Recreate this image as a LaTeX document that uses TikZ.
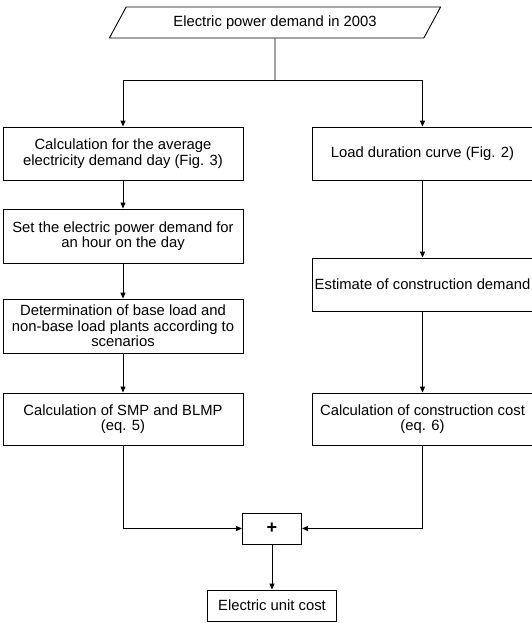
\documentclass[tikz,border=0pt]{standalone}
\usepackage{fontspec}
\setmainfont{Liberation Sans}
\usepackage{tikz}
\usetikzlibrary{shapes.geometric,arrows.meta}

\begin{document}
\begin{tikzpicture}[x=1pt, y=-1pt, line width=0.9pt,
  font=\fontsize{14.8}{15.5}\selectfont,
  box/.style={draw, align=center, inner sep=2pt, minimum height=53pt},
  lbox/.style={box, minimum width=240pt},
  rbox/.style={box, minimum width=221pt},
  arr/.style={-{Triangle[length=6pt,width=5pt]}}]
\useasboundingbox (0,0) rectangle (532,623);
\clip (0,0) rectangle (532,623);
\node[draw, trapezium, trapezium left angle=60, trapezium right angle=120, trapezium stretches=true,
  minimum width=332pt, minimum height=31pt] (demand) at (275,22.5) {Electric power demand in 2003};
\node[lbox] (avg) at (123,153.5) {Calculation for the average\\electricity demand day (Fig. 3)};
\node[lbox, minimum height=54pt] (hour) at (123,236) {Set the electric power demand for\\an hour on the day};
\node[lbox, minimum height=54pt] (base) at (123,326) {Determination of base load and\\non-base load plants according to\\scenarios};
\node[lbox, minimum height=52pt] (smp) at (123,419) {Calculation of SMP and BLMP\\(eq. 5)};
\node[rbox] (ldc) at (422.5,153.5) {Load duration curve (Fig. 2)};
\node[rbox] (est) at (422.5,284.5) {Estimate of construction demand};
\node[rbox, minimum height=52pt] (cost) at (422.5,419) {Calculation of construction cost\\(eq. 6)};
\node[draw, minimum width=59pt, minimum height=31pt, font=\fontsize{18}{18}\selectfont\bfseries] (plus) at (272,528.5) {+};
\node[draw, minimum width=129pt, minimum height=31pt] (unit) at (272,605.5) {Electric unit cost};
\coordinate (split) at (275,80);
\draw (demand.south) -- (split);
\draw[arr] (split) -| (avg);
\draw[arr] (split) -| (ldc);
\draw[arr] (avg) -- (hour);
\draw[arr] (hour) -- (base);
\draw[arr] (base) -- (smp);
\draw[arr] (ldc) -- (est);
\draw[arr] (est) -- (cost);
\draw[arr] (smp) |- (plus);
\draw[arr] (cost) |- (plus);
\draw[arr] (plus) -- (unit);
\end{tikzpicture}
\end{document}
